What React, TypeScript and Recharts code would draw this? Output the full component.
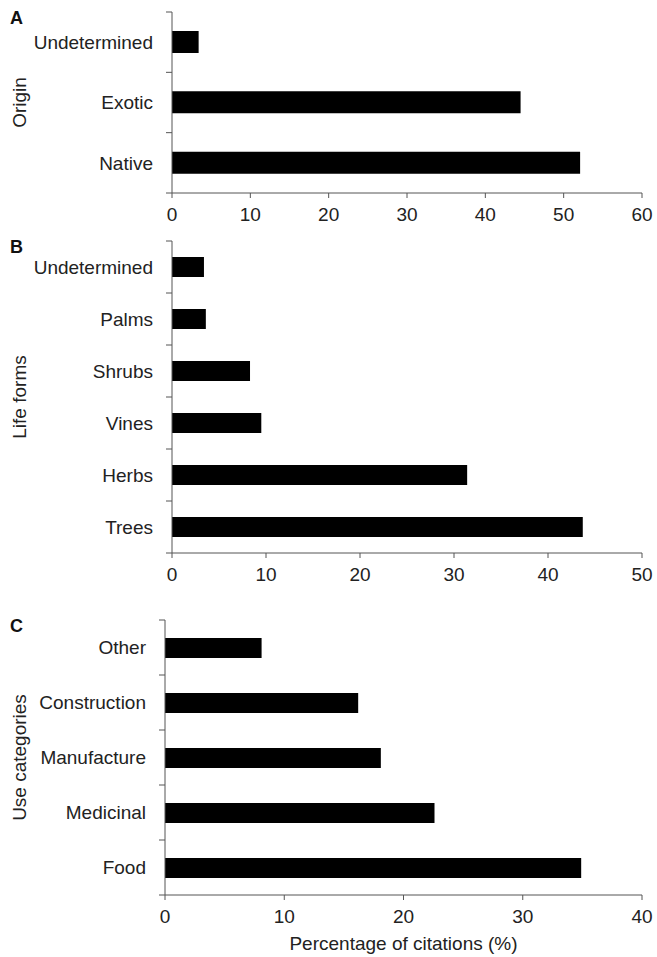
import { BarChart, Bar, XAxis, YAxis } from "recharts"

// Panel A – origin
const originCategories = ["Undetermined", "Exotic", "Native"]
const originValues = [3.4, 44.5, 52.1]
const originTicks = [0, 10, 20, 30, 40, 50, 60]

// Panel B – life forms
const lifeCategories = ["Undetermined", "Palms", "Shrubs", "Vines", "Herbs", "Trees"]
const lifeValues = [3.4, 3.6, 8.3, 9.5, 31.4, 43.7]
const lifeTicks = [0, 10, 20, 30, 40, 50]

// Panel C – use categories
const useCategories = ["Other", "Construction", "Manufacture", "Medicinal", "Food"]
const useValues = [8.1, 16.2, 18.1, 22.6, 34.9]
const useTicks = [0, 10, 20, 30, 40]

const FONT = "'Liberation Sans', Arial, sans-serif"
const AXIS = "#555"
const TEXT = "#222"
const W = 657

type PanelProps = {
  letter: string
  title: string
  categories: string[]
  values: number[]
  ticks: number[]
  top: number
  height: number
  marginTop: number
  axisWidth: number
  xAxisHeight: number
  barSize: number
  xLabel?: string
}

function Panel({
  letter,
  title,
  categories,
  values,
  ticks,
  top,
  height,
  marginTop,
  axisWidth,
  xAxisHeight,
  barSize,
  xLabel,
}: PanelProps) {
  const data = categories.map((name, i) => ({ name, value: values[i] }))
  const plotH = height - marginTop - xAxisHeight
  const band = plotH / categories.length
  const midY = marginTop + plotH / 2

  const renderTick = (props: any) => {
    const { x, y, payload, index } = props
    const ax = x + 19
    return (
      <g>
        <text
          x={x}
          y={y}
          dy="0.36em"
          textAnchor="end"
          fontSize={19}
          fontFamily={FONT}
          fill={TEXT}
        >
          {payload.value}
        </text>
        <line x1={ax - 6} x2={ax} y1={y - band / 2} y2={y - band / 2} stroke={AXIS} />
        {index === categories.length - 1 && (
          <line x1={ax - 6} x2={ax} y1={y + band / 2} y2={y + band / 2} stroke={AXIS} />
        )}
      </g>
    )
  }

  return (
    <div style={{ position: "absolute", left: 0, top, width: W, height }}>
      <BarChart
        width={W}
        height={height}
        data={data}
        layout="vertical"
        barCategoryGap={0}
        margin={{ top: marginTop, right: 15, left: 0, bottom: 0 }}
      >
        <XAxis
          type="number"
          domain={[0, ticks[ticks.length - 1]]}
          ticks={ticks}
          interval={0}
          height={xAxisHeight}
          tickSize={5}
          tickMargin={10}
          stroke={AXIS}
          tick={{ fontSize: 19, fontFamily: FONT, fill: TEXT }}
          label={
            xLabel
              ? {
                  value: xLabel,
                  position: "insideBottom",
                  offset: 7,
                  fontSize: 19,
                  fontFamily: FONT,
                  fill: TEXT,
                }
              : undefined
          }
        />
        <YAxis
          type="category"
          dataKey="name"
          width={axisWidth}
          tickLine={false}
          tickSize={0}
          tickMargin={19}
          stroke={AXIS}
          interval={0}
          tick={renderTick}
        />
        <Bar dataKey="value" fill="#000" barSize={barSize} isAnimationActive={false} />
      </BarChart>
      <svg
        width={60}
        height={height}
        style={{ position: "absolute", left: 0, top: 0 }}
      >
        <text x={10} y={marginTop + 12} fontSize={18} fontWeight="bold" fontFamily={FONT} fill="#111">
          {letter}
        </text>
        <text
          x={26}
          y={midY}
          transform={`rotate(-90, 26, ${midY})`}
          textAnchor="middle"
          fontSize={19}
          fontFamily={FONT}
          fill={TEXT}
        >
          {title}
        </text>
      </svg>
    </div>
  )
}

export default function App() {
  return (
    <div
      style={{
        position: "absolute",
        left: 0,
        top: 0,
        width: W,
        height: 957,
        background: "#fff",
        fontFamily: FONT,
      }}
    >
      <Panel
        letter="A"
        title="Origin"
        categories={originCategories}
        values={originValues}
        ticks={originTicks}
        top={0}
        height={225}
        marginTop={12}
        axisWidth={172}
        xAxisHeight={32}
        barSize={22}
      />
      <Panel
        letter="B"
        title="Life forms"
        categories={lifeCategories}
        values={lifeValues}
        ticks={lifeTicks}
        top={225}
        height={360}
        marginTop={16}
        axisWidth={172}
        xAxisHeight={32}
        barSize={20}
      />
      <Panel
        letter="C"
        title="Use categories"
        categories={useCategories}
        values={useValues}
        ticks={useTicks}
        top={585}
        height={372}
        marginTop={35}
        axisWidth={165}
        xAxisHeight={62}
        barSize={20}
        xLabel="Percentage of citations (%)"
      />
    </div>
  )
}
